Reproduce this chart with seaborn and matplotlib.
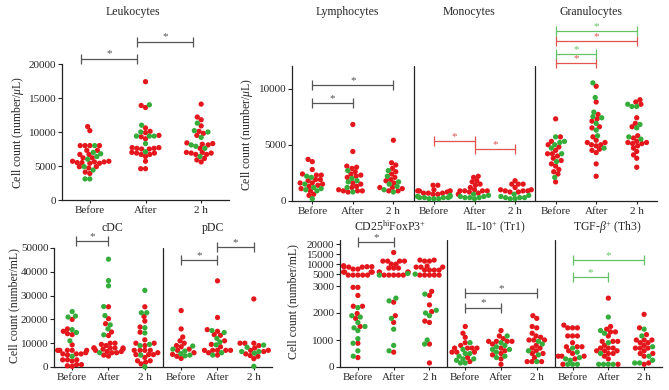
import numpy as np
import pandas as pd
import matplotlib
matplotlib.use('Agg')
import matplotlib.pyplot as plt
import seaborn as sns

#%% data

RED = '#e3171c'
GREEN = '#35ad3a'

time_labels = ['Before', 'After', '2 h']

# Leukocytes (number/uL)
leuk_before_red = [10800, 10200, 8000, 8000, 8000, 8000, 7300, 7300, 6700, 6700, 6200, 6200,
                   5700, 5600, 5500, 5400, 5400, 5500, 5600, 5700, 4900, 4900, 4700, 4100, 3900]
leuk_before_green = [8000, 7000, 6800, 6400, 6000, 4900, 4400, 3100, 3100]
leuk_after_red = [17400, 13900, 13600, 10600, 10100, 9900, 9500, 9300, 9000, 7700, 7600, 7500,
                  7500, 7600, 7700, 7000, 6900, 6700, 6700, 6900, 6400, 5700, 4600, 4600]
leuk_after_green = [14000, 11000, 10000, 9400, 9400, 9400, 8300, 7100]
leuk_2h_red = [14100, 12200, 11800, 10900, 10100, 9800, 9500, 8400, 8300, 8200, 8100, 7600,
               7000, 6900, 6700, 6700, 6900, 7000, 6100, 5900, 5600]
leuk_2h_green = [11300, 10200, 10000, 9200, 8100, 7900, 7600, 6400]

# Lymphocytes
lym_before_red = [3700, 3500, 2800, 2400, 2300, 2300, 1900, 1900, 1800, 1600, 1600, 1500,
                  1400, 1300, 1100, 900, 600, 500]
lym_before_green = [2200, 2100, 1500, 1200, 1100, 1000, 900, 200]
lym_after_red = [6800, 4400, 3100, 3000, 2900, 2600, 2400, 2300, 2200, 2100, 1600, 1500,
                 1300, 1200, 1000, 900, 900, 900, 800]
lym_after_green = [2700, 2000, 1800, 1700, 1200, 800]
lym_2h_red = [5400, 3400, 3200, 2900, 2600, 2400, 2100, 1900, 1800, 1600, 1200, 1200,
              1100, 900, 900]
lym_2h_green = [2700, 2200, 1700, 1500, 1300, 1000, 800]

# Monocytes
mono_before_red = [1400, 1400, 1000, 900, 900, 900, 800, 700, 700, 700, 600, 600]
mono_before_green = [500, 400, 400, 400, 300, 300, 300, 300, 200, 200, 200]
mono_after_red = [2200, 2100, 1800, 1700, 1500, 1400, 1200, 1000, 900, 900, 900, 900, 800, 700, 600]
mono_after_green = [600, 500, 400, 400, 300, 300, 300, 200]
mono_2h_red = [1800, 1500, 1500, 1500, 1200, 1000, 1000, 900, 900, 900, 800, 800]
mono_2h_green = [600, 500, 400, 300, 300, 300, 200, 200]

# Granulocytes
gran_before_red = [7300, 5700, 5300, 5000, 4800, 4500, 4200, 4200, 4000, 3800, 3600, 3300,
                   3100, 2800, 2600, 2400, 1700]
gran_before_green = [5700, 5300, 5200, 5000, 4700, 4200, 3500, 2100]
gran_after_red = [10200, 8800, 7700, 7300, 7100, 6600, 6500, 5700, 5400, 5200, 5000, 4900,
                  5000, 5200, 4600, 4500, 4300, 3300, 2200]
gran_after_green = [10500, 9200, 7900, 7500, 7400, 6900, 6300, 5800, 4700]
gran_2h_red = [9000, 8800, 8600, 7400, 6900, 6600, 5800, 5600, 5300, 5200, 5100, 5100,
               5200, 4900, 4700, 4400, 4100, 3800, 3000]
gran_2h_green = [8600, 8400, 8400, 6800, 6500, 5700, 5500]

# cDC (number/mL)
cdc_before_red = [20000, 16000, 15000, 14000, 13600, 9300, 7000, 7000, 7000, 7000, 7000, 6000,
                  5500, 5500, 5500, 5000, 3000, 3000, 3000, 2500, 1000, 1000, 500, 300]
cdc_before_green = [23300, 21400, 21000, 15700, 14500, 11000, 4500]
cdc_after_red = [25300, 20300, 18200, 14700, 13200, 10000, 10000, 9500, 9000, 8000, 8000, 8000,
                 8000, 8000, 7500, 7500, 7000, 6500, 6500, 6000, 6000, 5000, 4600]
cdc_after_green = [45300, 36300, 34100, 25400, 21600, 17700, 16000, 13500, 6000]
cdc_2h_red = [25300, 21200, 19300, 16800, 14600, 11400, 10000, 10000, 9000, 7000, 7000, 7000,
              7000, 6000, 5200, 5200, 5200, 4000, 2600, 2600, 2000, 1300]
cdc_2h_green = [32200, 22800, 22800, 16500, 14300, 9500, 9000, 5000, 100]

# pDC
pdc_before_red = [23700, 16000, 12600, 11000, 10000, 9000, 8500, 7500, 7000, 6000, 5300, 4500, 3600]
pdc_before_green = [8800, 7500, 6700, 5600, 5000, 4700]
pdc_after_red = [36200, 20800, 15700, 15000, 13600, 13300, 11000, 9500, 8500, 7000, 7000, 7000,
                 7000, 7000, 6000, 5000]
pdc_after_green = [15300, 14500, 12000, 10500, 9300, 6000, 5000]
pdc_2h_red = [28600, 10000, 10000, 10000, 9000, 8000, 7000, 7000, 6500, 5500, 4800, 4500, 3500]
pdc_2h_green = [9200, 8300, 6500, 6500, 5800, 300]

# CD25hi FoxP3+
cd25_before_red = [9200, 8700, 8700, 8700, 8500, 8500, 7500, 7500, 6000, 6000, 6000, 6000,
                   4500, 4500, 4500, 4500, 4500, 2950, 2950, 2650, 2250, 2250, 1980, 1800,
                   1500, 880, 350]
cd25_before_green = [2200, 1900, 1850, 1650, 1500, 1450, 1350, 1050, 880, 600, 400]
cd25_after_red = [15800, 11500, 11500, 11500, 11500, 10000, 10000, 8000, 8000, 8000, 6000, 6000,
                  6000, 6000, 4500, 4500, 4500, 4500, 4500, 2400, 1900, 1650, 550]
cd25_after_green = [5300, 4500, 2550, 2450, 1800, 1400, 800, 600]
cd25_2h_red = [12000, 12000, 11500, 11500, 9000, 8500, 8500, 8500, 7000, 7000, 7000, 7000,
               4500, 4500, 4500, 4500, 4500, 2800, 2650, 2300, 2050, 1700, 1650, 850, 150]
cd25_2h_green = [5000, 2700, 2100, 2000, 1900, 1000, 850]

# IL-10+ (Tr1)
il10_before_red = [1500, 1250, 1100, 900, 800, 700, 700, 700, 700, 550, 550, 550, 350, 200]
il10_before_green = [900, 650, 500, 500, 400, 300, 300, 250, 150, 150]
il10_after_red = [1350, 1150, 1050, 950, 950, 950, 950, 850, 700, 600, 500, 450, 300, 100]
il10_after_green = [1150, 900, 800, 750, 650, 650, 550, 400, 350]
il10_2h_red = [1900, 1800, 1500, 1450, 1250, 1150, 1100, 1000, 1000, 1000, 800, 700, 700,
               600, 500, 500, 350, 200, 200, 200]
il10_2h_green = [950, 850, 600, 450, 200]

# TGF-beta+ (Th3)
tgf_before_red = [1550, 1450, 1450, 1450, 1150, 1150, 1150, 900, 750, 750, 750, 600, 500,
                  400, 400, 400, 300, 100]
tgf_before_green = [700, 550, 350, 300, 250, 100, 100, 100]
tgf_after_red = [2550, 1500, 1400, 1300, 1300, 1150, 950, 950, 950, 800, 700, 700, 700, 600,
                 600, 600, 500, 500, 400, 300, 100]
tgf_after_green = [1850, 1350, 1250, 900, 500, 100, 100, 100, 100]
tgf_2h_red = [1950, 1450, 1200, 1000, 1000, 1000, 900, 900, 800, 700, 700, 700, 600, 500,
              500, 400, 150, 100]
tgf_2h_green = [1400, 1150, 750, 400, 250, 150, 150]

#%% style

sns.set_style('ticks')
plt.rcParams['font.family'] = ['Liberation Serif', 'DejaVu Serif']
plt.rcParams['mathtext.fontset'] = 'custom'
plt.rcParams['mathtext.rm'] = 'Liberation Serif'
plt.rcParams['mathtext.it'] = 'Liberation Serif:italic'
plt.rcParams['axes.linewidth'] = 0.9
plt.rcParams['axes.edgecolor'] = '#222222'

W, H = 669, 390
DOT_LAYOUT = 3.3   # marker size used to pack the swarm
DOT_SHOWN = 3.8    # drawn a bit bigger so dots overlap like the original
fig = plt.figure(figsize=(W / 100, H / 100), dpi=100)


def px_axes(left, right, top, bottom):
    return fig.add_axes([left / W, (H - bottom) / H, (right - left) / W, (bottom - top) / H])


def make_frame(groups):
    rows = []
    for i, (red, green) in enumerate(groups):
        rows += [(i, v, 'red') for v in red]
        rows += [(i, v, 'green') for v in green]
    return pd.DataFrame(rows, columns=['pos', 'value', 'tone'])


def swarm(ax, groups):
    df = make_frame(groups)
    sns.swarmplot(data=df, x='pos', y='value', hue='tone', palette={'red': RED, 'green': GREEN},
                  size=DOT_LAYOUT, legend=False, ax=ax, clip_on=False, zorder=3, warn_thresh=1)
    n = len(groups)
    ax.set_xlim(-0.5, n - 0.5)
    ax.set_xticks(range(n))
    ax.set_xticklabels(time_labels * (n // 3), fontsize=8)
    ax.set_xlabel('')
    ax.set_ylabel('')
    sns.despine(ax=ax)
    ax.tick_params(axis='y', labelsize=8, length=3, width=0.8, pad=1)
    ax.tick_params(axis='x', length=2.5, width=0.8, pad=2)
    for sep in np.arange(2.5, n - 1, 3):
        ax.axvline(sep, color='#222222', lw=0.9, zorder=1)


def bracket(ax, x1, x2, y, color='#555555'):
    ax.plot([x1, x2], [y, y], color=color, lw=0.9, marker='|', markersize=7,
            markeredgewidth=0.9, clip_on=False, zorder=4)
    ax.text((x1 + x2) / 2, y, '*', color=color, ha='center', va='bottom', fontsize=8,
            clip_on=False)


#%% Leukocytes

ax1 = px_axes(62, 229, 64, 200)
swarm(ax1, [(leuk_before_red, leuk_before_green), (leuk_after_red, leuk_after_green),
            (leuk_2h_red, leuk_2h_green)])
ax1.set_ylim(0, 20000)
ax1.set_yticks([0, 5000, 10000, 15000, 20000])
bracket(ax1, -0.15, 0.85, 20800)
bracket(ax1, 0.85, 1.85, 23300)

#%% Lymphocytes / Monocytes / Granulocytes

ax2 = px_axes(292, 657, 66, 201)
swarm(ax2, [(lym_before_red, lym_before_green), (lym_after_red, lym_after_green),
            (lym_2h_red, lym_2h_green),
            (mono_before_red, mono_before_green), (mono_after_red, mono_after_green),
            (mono_2h_red, mono_2h_green),
            (gran_before_red, gran_before_green), (gran_after_red, gran_after_green),
            (gran_2h_red, gran_2h_green)])
ax2.set_ylim(0, 12000)
ax2.set_yticks([0, 5000, 10000])
bracket(ax2, 0, 1, 8700)
bracket(ax2, 0, 2, 10300)
bracket(ax2, 3, 4, 5350, '#e0554f')
bracket(ax2, 4, 5, 4600, '#e0554f')
bracket(ax2, 6, 7, 12300, '#e0554f')
bracket(ax2, 6, 7, 13100, '#66c266')
bracket(ax2, 6, 8, 14200, '#e0554f')
bracket(ax2, 6, 8, 15100, '#66c266')

#%% cDC / pDC

ax3 = px_axes(54, 272, 248, 367)
swarm(ax3, [(cdc_before_red, cdc_before_green), (cdc_after_red, cdc_after_green),
            (cdc_2h_red, cdc_2h_green),
            (pdc_before_red, pdc_before_green), (pdc_after_red, pdc_after_green),
            (pdc_2h_red, pdc_2h_green)])
ax3.set_ylim(0, 50000)
ax3.set_yticks(np.arange(0, 50001, 10000))
bracket(ax3, 0.1, 1, 53000)
bracket(ax3, 3, 4, 44800)
bracket(ax3, 4, 5, 50300)

#%% CD25 / IL-10 / TGF-beta with broken axis

bp_val = np.array([-1e6, 0, 3000, 3050, 1e6])
bp_px = np.array([-1e6 * 81 / 3000, 0, 81, 89, 89 + (1e6 - 3050) * 0.002])


def fwd(y):
    return np.interp(y, bp_val, bp_px)


def inv(p):
    return np.interp(p, bp_px, bp_val)


ax4 = px_axes(340, 662, 240, 367)
ax4.set_yscale('function', functions=(fwd, inv))
swarm(ax4, [(cd25_before_red, cd25_before_green), (cd25_after_red, cd25_after_green),
            (cd25_2h_red, cd25_2h_green),
            (il10_before_red, il10_before_green), (il10_after_red, il10_after_green),
            (il10_2h_red, il10_2h_green),
            (tgf_before_red, tgf_before_green), (tgf_after_red, tgf_after_green),
            (tgf_2h_red, tgf_2h_green)])
ax4.set_ylim(0, 22050)
ax4.set_yticks([0, 1000, 2000, 3000, 5000, 10000, 15000, 20000])
ax4.set_yticklabels(['0', '1000', '2000', '3000', '5000', '10000', '15000', '20000'])
ax4.yaxis.set_minor_locator(matplotlib.ticker.NullLocator())
ax4.spines['left'].set_bounds(0, 3150)
ax4.plot([0, 0], [3700, 22050], color='#222222', lw=0.9, clip_on=False,
         transform=ax4.get_yaxis_transform())
bracket(ax4, 0, 1, 21000)
bracket(ax4, 3, 4, 2200)
bracket(ax4, 3, 5, 2740)
bracket(ax4, 6, 7, 3550, '#66c266')
bracket(ax4, 6, 8, 12050, '#66c266')

#%% titles and axis labels

def ftext(x, y, s, **kw):
    fig.text(x / W, 1 - y / H, s, ha='center', va='center', **kw)


for x, y, s in [(133, 12, 'Leukocytes'), (347, 12, 'Lymphocytes'), (469, 12, 'Monocytes'),
                (591, 12, 'Granulocytes'), (112, 228, 'cDC'), (213, 228, 'pDC'),
                (390, 227, r'CD25$^{\rm hi}$FoxP3$^{+}$'), (495, 228, r'IL-10$^{+}$ (Tr1)'),
                (607, 228, r'TGF-$\mathit{\beta}^{+}$ (Th3)')]:
    ftext(x, y, s, fontsize=8.5)

ul = r'Cell count (number/$\mathit{\mu}$L)'
ml = 'Cell count (number/mL)'
ftext(18, 133, ul, fontsize=8.5, rotation=90)
ftext(247, 135, ul, fontsize=8.5, rotation=90)
ftext(14, 306, ml, fontsize=8.5, rotation=90)
ftext(293, 302, ml, fontsize=8.5, rotation=90)

#%% pack the swarms once, then freeze them and enlarge the dots

fig.canvas.draw()
grow = (DOT_SHOWN / DOT_LAYOUT) ** 2
for ax in [ax1, ax2, ax3, ax4]:
    for coll in ax.collections:
        if 'draw' in coll.__dict__:
            del coll.draw
            coll.set_sizes(coll.get_sizes() * grow)

fig.savefig('out.png', dpi=100)
